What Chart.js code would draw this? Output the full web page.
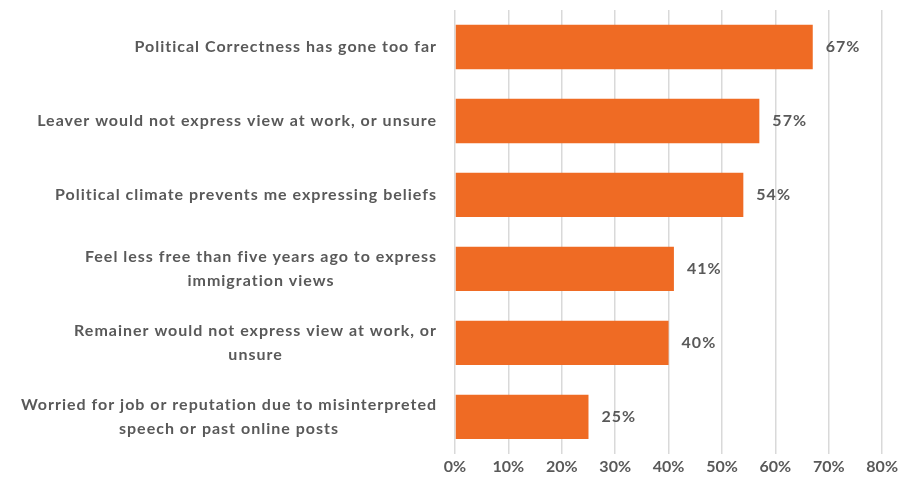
<!DOCTYPE html>
<html>
<head>
<meta charset="utf-8">
<script src="https://cdn.jsdelivr.net/npm/chart.js@4"></script>
<style>
    html, body { margin: 0; padding: 0; background: #fff; }
    #wrap { width: 901px; height: 489px; }
</style>
</head>
<body>
<div id="wrap"><canvas id="chart" width="901" height="489"></canvas></div>
<script>
const categories = [
    ["Political Correctness has gone too far"],
    ["Leaver would not express view at work, or unsure"],
    ["Political climate prevents me expressing beliefs"],
    ["Feel less free than five years ago to express", "immigration views"],
    ["Remainer would not express view at work, or", "unsure"],
    ["Worried for job or reputation due to misinterpreted", "speech or past online posts"]
];
const values = [67, 57, 54, 41, 40, 25];
const xTicks = [0, 10, 20, 30, 40, 50, 60, 70, 80];

const textColor = "#595959";
const fontFamily = "Lato, 'Open Sans', sans-serif";

// category labels: block right aligned to the axis, lines centred inside the block
const categoryLabels = {
    id: 'categoryLabels',
    afterDraw(chart) {
        const ctx = chart.ctx;
        const y = chart.scales.y;
        const right = chart.chartArea.left - 18;
        const lineHeight = 24;
        ctx.save();
        ctx.font = "bold 16px " + fontFamily;
        ctx.letterSpacing = "1px";
        ctx.fillStyle = textColor;
        ctx.textAlign = "center";
        ctx.textBaseline = "middle";
        categories.forEach((lines, i) => {
            const cy = y.getPixelForValue(i);
            const w = Math.max(...lines.map(l => ctx.measureText(l).width));
            const cx = right - w / 2;
            const top = cy - (lines.length - 1) * lineHeight / 2;
            lines.forEach((l, j) => ctx.fillText(l, cx, top + j * lineHeight));
        });
        ctx.restore();
    }
};

// value labels after the bar ends
const valueLabels = {
    id: 'valueLabels',
    afterDatasetsDraw(chart) {
        const ctx = chart.ctx;
        const meta = chart.getDatasetMeta(0);
        ctx.save();
        ctx.font = "bold 16px " + fontFamily;
        ctx.letterSpacing = "1px";
        ctx.fillStyle = textColor;
        ctx.textAlign = "left";
        ctx.textBaseline = "middle";
        meta.data.forEach((bar, i) => {
            ctx.fillText(values[i] + "%", bar.x + 13, bar.y);
        });
        ctx.restore();
    }
};

new Chart(document.getElementById('chart').getContext('2d'), {
    type: 'bar',
    data: {
        labels: categories.map(c => c.join(" ")),
        datasets: [{
            data: values,
            backgroundColor: "#EF6B24",
            categoryPercentage: 1,
            barPercentage: 0.6
        }]
    },
    options: {
        indexAxis: 'y',
        responsive: false,
        animation: false,
        layout: {padding: {left: 455, top: 10, right: 0, bottom: 10}},
        plugins: {
            legend: {display: false},
            tooltip: {enabled: false}
        },
        scales: {
            x: {
                min: 0,
                max: 80,
                afterBuildTicks: axis => {
                    axis.ticks = xTicks.map(v => ({value: v}));
                },
                border: {display: false},
                grid: {color: "#d9d9d9", lineWidth: 1.5, drawTicks: false},
                ticks: {
                    padding: 3,
                    color: textColor,
                    font: {family: fontFamily, size: 16, weight: 'bold'},
                    callback: v => v + "%"
                }
            },
            y: {
                display: false
            }
        }
    },
    plugins: [categoryLabels, valueLabels]
});
</script>
</body>
</html>
